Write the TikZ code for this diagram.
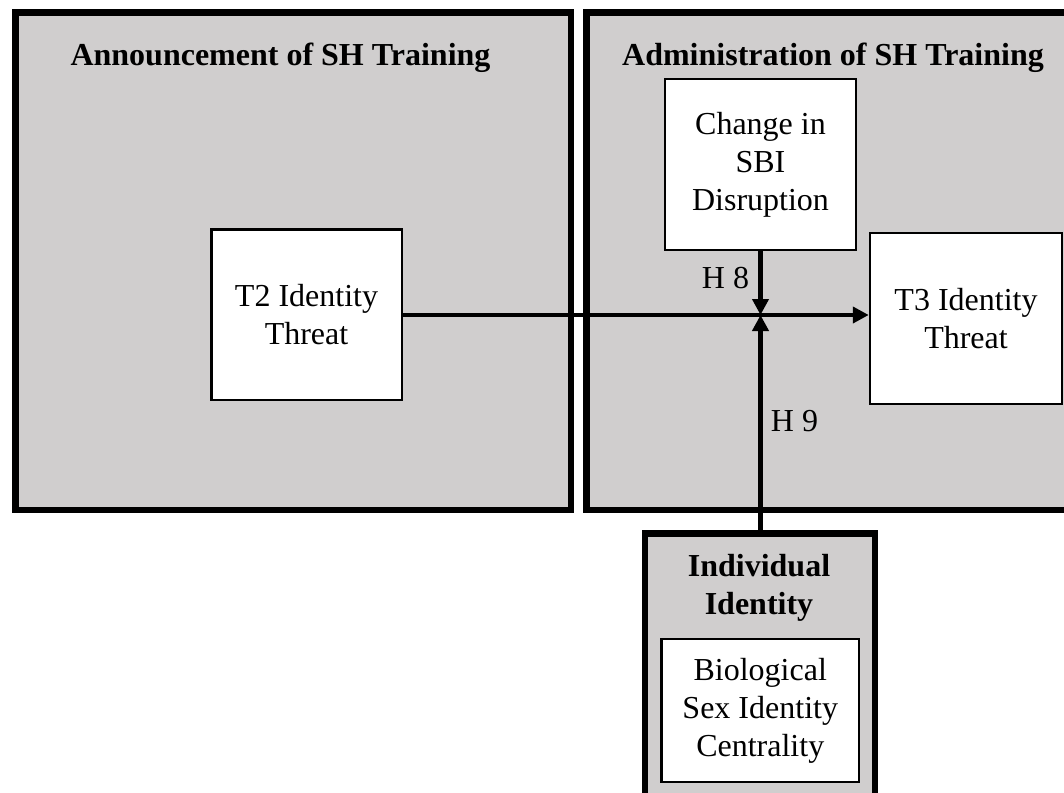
\documentclass[tikz,border=0pt]{standalone}
\usepackage{fontspec}
\setmainfont{Liberation Serif}
\usetikzlibrary{arrows.meta}
\definecolor{panelgray}{HTML}{D0CECE}
\tikzset{
  panel/.style={draw=black, line width=6.5pt, fill=panelgray, rectangle, inner sep=0pt},
  varbox/.style={draw=black, line width=2.5pt, fill=white, rectangle, align=center,
    inner sep=0pt, font=\fontsize{32}{38}\selectfont},
  paneltitle/.style={font=\fontsize{32}{38}\selectfont\bfseries, align=center, inner sep=0pt},
  hlabel/.style={font=\fontsize{32}{38}\selectfont, inner sep=0pt},
  path arrow/.style={line width=4.2pt, -{Triangle[length=16pt,width=16pt]}}
}
\begin{document}
\begin{tikzpicture}[x=1pt, y=-1pt]
\path[use as bounding box, clip] (0,0) rectangle (1064,792);

% time-phase panels
\node[panel, minimum width=555.5pt, minimum height=497.5pt] (ann) at (293.25,261.25) {};
\node[panel, minimum width=488.5pt, minimum height=497.5pt] (adm) at (830.75,261.25) {};
\node[paneltitle, anchor=base] (anntitle) at (280.5,65) {Announcement of SH Training};
\node[paneltitle, anchor=base] (admtitle) at (833,65) {Administration of SH Training};

% individual identity panel (runs off the lower edge)
\node[panel, minimum width=230pt, minimum height=266.5pt] (ind) at (760,666.75) {};
\node[paneltitle] (indtitle) at (759,588) {Individual\\Identity};

% variables
\node[varbox, minimum width=190.5pt, minimum height=170.5pt] (t2) at (306.5,314.5) {T2 Identity\\Threat};
\node[varbox, minimum width=191pt, minimum height=171pt] (chg) at (760.5,164.5) {Change in\\SBI\\Disruption};
\node[varbox, minimum width=192pt, minimum height=171pt] (t3) at (966,318.5) {T3 Identity\\Threat};
\node[varbox, minimum width=197.5pt, minimum height=143pt] (bsc) at (760.25,710.5) {Biological\\Sex Identity\\Centrality};

% moderation paths
\coordinate (j) at (760.5,315);
\draw[path arrow] (t2.east |- j) -- (j -| t3.west);
\draw[path arrow] (chg.south -| j) -- (j);
\draw[path arrow] (ind.north -| j) -- (j);

\node[hlabel] (h8) at (725.5,278) {H 8};
\node[hlabel] (h9) at (794.5,421) {H 9};
\end{tikzpicture}
\end{document}
